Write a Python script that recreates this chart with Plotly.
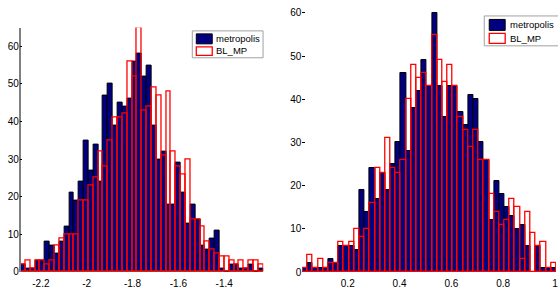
import numpy as np
import plotly.graph_objects as go

# ---------------- data ----------------
left_metropolis = [2, 1, 1, 3, 3, 8, 7, 5, 8, 12, 21, 19, 24, 35, 27, 34, 24, 47, 50, 39,
                   45, 44, 46, 56, 58, 52, 55, 39, 30, 32, 18, 18, 29, 21, 13, 18, 14, 7, 6, 9,
                   11, 1, 0, 2, 2, 1, 1, 2, 0, 1]
left_bl_mp = [2, 3, 1, 3, 3, 2, 3, 7, 9, 10, 10, 10, 19, 19, 23, 25, 32, 28, 35, 41,
              41, 42, 56, 52, 65, 43, 44, 49, 47, 31, 48, 32, 28, 26, 30, 14, 14, 12, 8, 6,
              5, 4, 4, 3, 2, 3, 1, 3, 3, 2]
right_metropolis = [1, 2, 1, 1, 1, 3, 2, 6, 6, 6, 5, 19, 14, 24, 17, 23, 19, 25, 30, 46,
                    28, 38, 42, 49, 43, 60, 43, 36, 43, 43, 37, 34, 41, 40, 30, 26, 12, 21, 18, 15,
                    13, 10, 11, 6, 0, 6, 1, 1, 1, 1]
right_bl_mp = [1, 4, 1, 3, 1, 2, 2, 7, 6, 7, 10, 8, 10, 16, 24, 23, 31, 24, 23, 26,
               40, 48, 45, 46, 43, 55, 49, 44, 48, 43, 36, 33, 29, 33, 26, 26, 18, 14, 11, 12,
               17, 15, 3, 14, 9, 6, 7, 1, 2, 1]

left_bin_start = -2.2883
left_bin_width = 0.021174
right_bin_start = 0.025
right_bin_width = 0.02

left_tick_vals = [-2.2, -2.0, -1.8, -1.6, -1.4]
left_tick_text = ["-2.2", "-2", "-1.8", "-1.6", "-1.4"]
right_tick_vals = [0.2, 0.4, 0.6, 0.8, 1.0]
right_tick_text = ["0.2", "0.4", "0.6", "0.8", "1"]
y_tick_vals = [0, 10, 20, 30, 40, 50, 60]

series_names = ["metropolis", "BL_MP"]

# ---------------- figure ----------------
W, H = 558, 289
MB = 16
PH = H - MB  # plot-area height in px

def px_x(p):
    return p / W

def px_y(p):
    return (PH - p) / PH

FONT = "Liberation Sans, Arial, sans-serif"
NAVY = "#000080"
RED = "#ff0000"

nL = len(left_metropolis)
nR = len(right_metropolis)
left_centers = left_bin_start + (np.arange(nL) + 0.5) * left_bin_width
right_centers = right_bin_start + (np.arange(nR) + 0.5) * right_bin_width

fig = go.Figure()
fig.add_trace(go.Bar(x=left_centers, y=left_metropolis, width=left_bin_width,
                     marker=dict(color=NAVY, line=dict(color="black", width=1)),
                     name=series_names[0], xaxis="x", yaxis="y", showlegend=False))
fig.add_trace(go.Bar(x=left_centers, y=left_bl_mp, width=left_bin_width,
                     marker=dict(color="rgba(0,0,0,0)", line=dict(color=RED, width=1.3)),
                     name=series_names[1], xaxis="x", yaxis="y", showlegend=False))
fig.add_trace(go.Bar(x=right_centers, y=right_metropolis, width=right_bin_width,
                     marker=dict(color=NAVY, line=dict(color="black", width=1)),
                     name=series_names[0], xaxis="x2", yaxis="y2", showlegend=False))
fig.add_trace(go.Bar(x=right_centers, y=right_bl_mp, width=right_bin_width,
                     marker=dict(color="rgba(0,0,0,0)", line=dict(color=RED, width=1.3)),
                     name=series_names[1], xaxis="x2", yaxis="y2", showlegend=False))

tickfont = dict(family=FONT, size=10, color="black")

left_x0, left_x1 = 20.7, 264.2
right_x0 = 303.5
right_px_per_unit = 260.0
right_px_per_count = 4.333

fig.update_layout(
    width=W, height=H,
    margin=dict(l=0, r=0, t=0, b=MB, pad=0),
    paper_bgcolor="white", plot_bgcolor="white",
    barmode="overlay", bargap=0, showlegend=False,
    xaxis=dict(domain=[px_x(left_x0), px_x(left_x1)],
               range=[left_bin_start, left_bin_start + nL * left_bin_width],
               tickvals=left_tick_vals, ticktext=left_tick_text, tickfont=tickfont,
               showgrid=False, zeroline=False, showline=False, ticks="", anchor="y",
               ticklabelstandoff=4),
    yaxis=dict(domain=[0, px_y(27.7)], range=[0, 65], tickvals=y_tick_vals,
               tickfont=tickfont, showgrid=False, zeroline=False,
               showline=True, linecolor="#808080", linewidth=1.5,
               ticks="inside", ticklen=2, tickcolor="black", anchor="x",
               ticklabelstandoff=-2),
    xaxis2=dict(domain=[px_x(right_x0), 1],
                range=[right_bin_start, right_bin_start + (W - right_x0) / right_px_per_unit],
                tickvals=right_tick_vals, ticktext=right_tick_text, tickfont=tickfont,
                showgrid=False, zeroline=False, showline=False, ticks="", anchor="y2",
                ticklabelstandoff=4, ticklabeloverflow="allow"),
    yaxis2=dict(domain=[0, 1], range=[0, PH / right_px_per_count], tickvals=y_tick_vals,
                tickfont=tickfont, showgrid=False, zeroline=False, showline=False,
                ticks="inside", ticklen=3, tickcolor="black", anchor="x2"),
)

# ---------------- legends (drawn as boxes + text) ----------------
def legend(box, sym_x, sym1_y, sym2_y, text_x, text_y):
    shapes = [
        dict(type="rect", xref="paper", yref="paper",
             x0=px_x(box[0]), x1=px_x(box[1]), y0=px_y(box[3]), y1=px_y(box[2]),
             fillcolor="white", line=dict(color="#a0a0a0", width=1)),
        dict(type="rect", xref="paper", yref="paper",
             x0=px_x(sym_x[0]), x1=px_x(sym_x[1]), y0=px_y(sym1_y[1]), y1=px_y(sym1_y[0]),
             fillcolor=NAVY, line=dict(color="black", width=1)),
        dict(type="rect", xref="paper", yref="paper",
             x0=px_x(sym_x[0]), x1=px_x(sym_x[1]), y0=px_y(sym2_y[1]), y1=px_y(sym2_y[0]),
             fillcolor="white", line=dict(color=RED, width=1.3)),
    ]
    anns = [dict(xref="paper", yref="paper", x=px_x(text_x), y=px_y(ty), text=t,
                 showarrow=False, xanchor="left", yanchor="middle",
                 font=dict(family=FONT, size=9.5, color="black"))
            for t, ty in zip(series_names, text_y)]
    return shapes, anns

s1, a1 = legend((193, 264, 31, 58), (197, 213), (34, 44), (47, 55.5), 215, (39, 51))
s2, a2 = legend((486, 562, 16, 46), (491, 507), (19.5, 30.5), (33.5, 43.5), 510, (25, 38.5))
fig.update_layout(shapes=s1 + s2, annotations=a1 + a2)

fig.write_html("out.html",
               config={"displayModeBar": False},
               post_script="document.body.style.margin='0';document.body.style.padding='0';")
